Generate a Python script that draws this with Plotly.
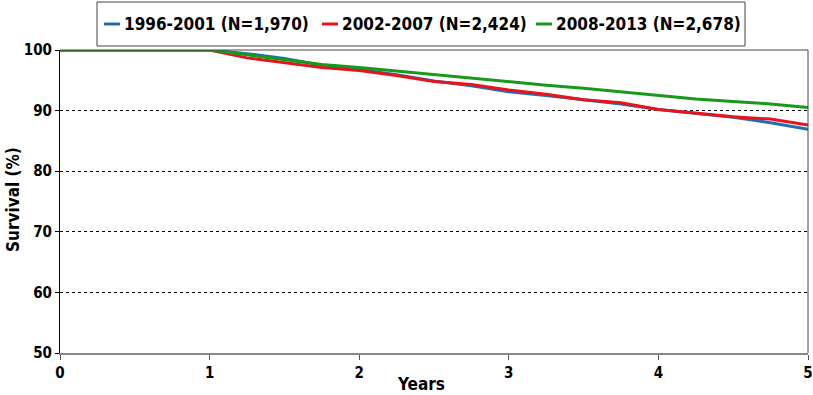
import plotly.graph_objects as go

years = [0, 1, 1.25, 1.5, 1.75, 2, 2.25, 2.5, 2.75, 3, 3.25, 3.5, 3.75, 4, 4.25, 4.5, 4.75, 5]
s_1996 = [100, 100, 99.4, 98.6, 97.5, 96.8, 95.9, 94.9, 94.1, 93.1, 92.5, 91.8, 91.1, 90.2, 89.5, 88.9, 88.0, 86.9]
s_2002 = [100, 100, 98.7, 97.9, 97.1, 96.6, 95.8, 94.8, 94.3, 93.4, 92.7, 91.8, 91.3, 90.2, 89.6, 89.0, 88.6, 87.6]
s_2008 = [100, 100, 99.2, 98.4, 97.6, 97.1, 96.5, 95.9, 95.3, 94.7, 94.2, 93.7, 93.1, 92.4, 91.9, 91.5, 91.1, 90.5]
names = ["1996-2001 (N=1,970)", "2002-2007 (N=2,424)", "2008-2013 (N=2,678)"]
colors = ["#1f6fb5", "#e8141c", "#179a1a"]
x_ticks = [0, 1, 2, 3, 4, 5]
y_ticks = [50, 60, 70, 80, 90, 100]

FONT = "Liberation Sans Narrow, DejaVu Sans Condensed, Arial Narrow, sans-serif"

L, R, T, B = 60, 5, 50, 42
W, H = 813, 395
PW, PH = W - L - R, H - T - B

def px_x(p):
    return (p - L) / PW

def px_y(p):
    return (H - B - p) / PH

fig = go.Figure()
for s, n, c in zip([s_1996, s_2002, s_2008], names, colors):
    fig.add_trace(go.Scatter(x=years, y=s, name=n, mode="lines",
                             line=dict(color=c, width=3), showlegend=False))

fig.update_layout(
    width=W, height=H,
    margin=dict(l=L, r=R, t=T, b=B, autoexpand=False),
    paper_bgcolor="white", plot_bgcolor="white",
    font=dict(family=FONT, color="black", size=14, weight="bold"),
    showlegend=False,
)
fig.update_xaxes(range=[0, 5], tickvals=x_ticks, ticks="outside", ticklen=5,
                 tickcolor="#555555", ticklabeloverflow="allow", automargin=False,
                 showgrid=False, zeroline=False, showline=True, linecolor="#888888", linewidth=2,
                 tickfont=dict(family=FONT, size=15, color="black", weight="bold"))
fig.update_yaxes(range=[50, 100], tickvals=y_ticks, automargin=False,
                 ticks="outside", ticklen=4, tickcolor="black",
                 showgrid=True, gridcolor="black", griddash="dot", gridwidth=1,
                 zeroline=False, showline=True, linecolor="black", linewidth=1,
                 tickfont=dict(family=FONT, size=15, color="black", weight="bold"))
# top and right frame
fig.add_shape(type="line", xref="paper", yref="paper", x0=0, x1=1, y0=1, y1=1,
              line=dict(color="#444444", width=1))
fig.add_shape(type="line", xref="paper", yref="paper", x0=1, x1=1, y0=0, y1=1,
              line=dict(color="#444444", width=1))
# legend frame and entries
fig.add_shape(type="rect", xref="paper", yref="paper", x0=px_x(97), x1=px_x(745),
              y0=px_y(46), y1=px_y(2), line=dict(color="#444444", width=1))
leg_text_x = [122, 340, 554]
for n, c, tx in zip(names, colors, leg_text_x):
    fig.add_shape(type="line", xref="paper", yref="paper", x0=px_x(tx - 18), x1=px_x(tx - 2),
                  y0=px_y(24), y1=px_y(24), line=dict(color=c, width=3))
    fig.add_annotation(text=n, xref="paper", yref="paper", x=px_x(tx), y=px_y(24),
                       xanchor="left", yanchor="middle", showarrow=False,
                       font=dict(family=FONT, size=17, color="black", weight="bold"))
# axis titles
fig.add_annotation(text="Years", xref="paper", yref="paper", x=px_x(421), y=px_y(384),
                   xanchor="center", yanchor="middle", showarrow=False,
                   font=dict(family=FONT, size=17, color="black", weight="bold"))
fig.add_annotation(text="Survival (%)", xref="paper", yref="paper", x=px_x(13), y=px_y(200),
                   xanchor="center", yanchor="middle", showarrow=False, textangle=-90,
                   font=dict(family=FONT, size=17, color="black", weight="bold"))

fig.write_html("out.html", config={"displayModeBar": False},
               post_script="document.body.style.margin='0';document.body.style.padding='0';")
